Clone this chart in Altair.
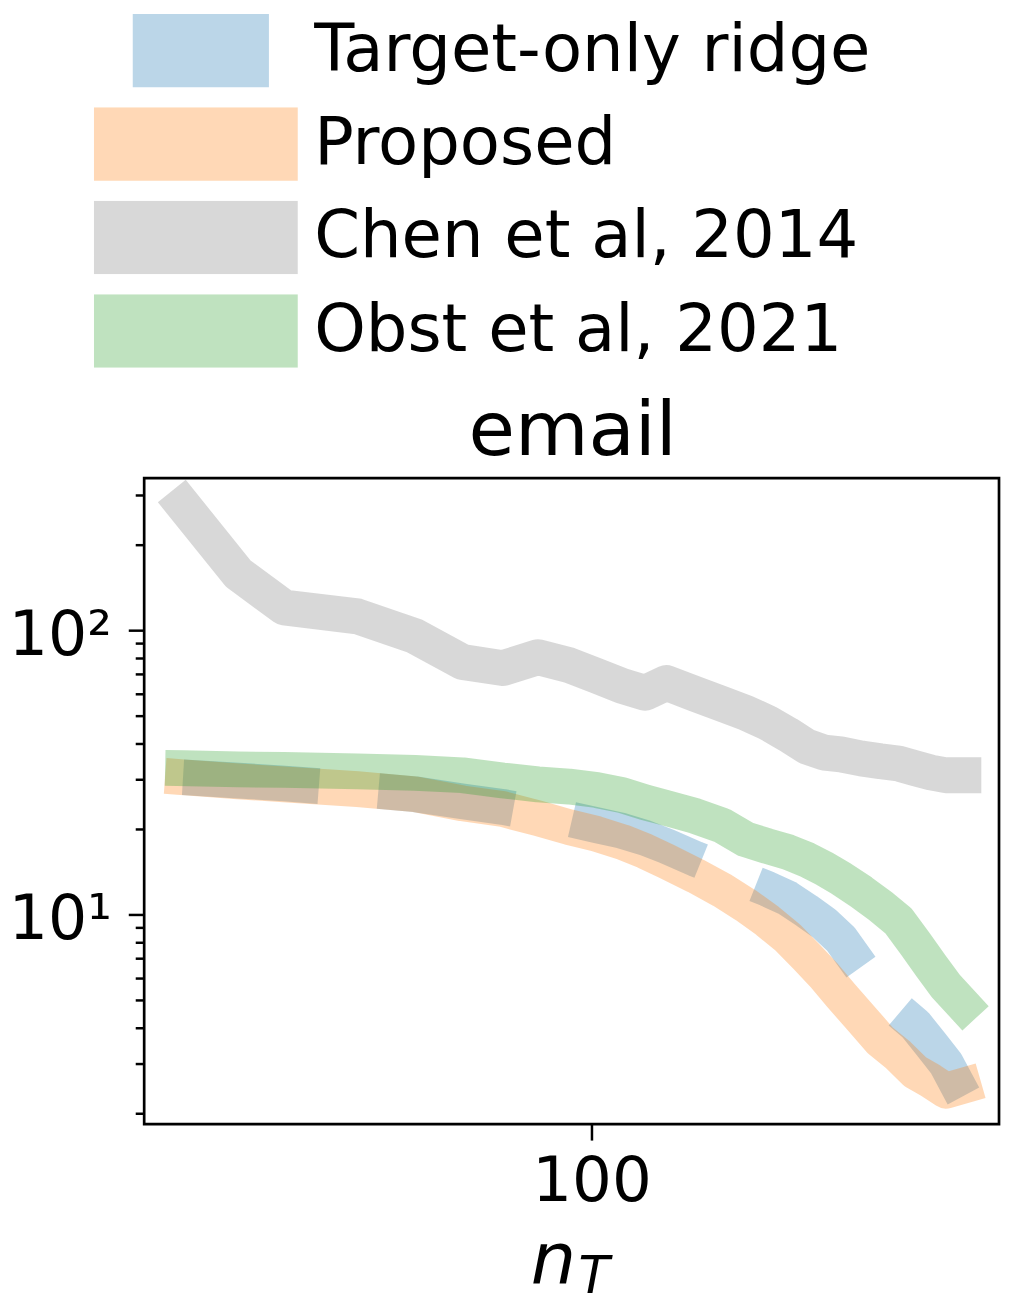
import altair as alt
import pandas as pd

names = ["Target-only ridge", "Proposed", "Chen et al, 2014", "Obst et al, 2021"]
colors = ["#1f77b4", "#ff7f0e", "#7f7f7f", "#2ca02c"]

n_T = [22, 27, 32, 42, 52, 62, 72, 82, 92, 102, 112, 122, 132, 147, 162, 177,
       192, 207, 222, 237, 252, 272, 292, 312, 332, 352, 372, 397]

target_only = [30.4, 29.6, 28.9, 27.6, 26.5, 25.0, 23.9, 22.7, 21.7, 20.6, 19.7, 18.6,
               17.4, 15.7, 14.4, 13.2, 12.3, 11.4, 10.3, 9.3, 8.2, 6.5, 5.4, 4.6,
               4.1, 3.5, 3.0, 2.3]
proposed = [30.4, 29.4, 28.7, 27.6, 26.5, 24.6, 23.5, 21.8, 20.3, 19.2, 18.0, 16.7,
            15.4, 13.7, 12.2, 10.8, 9.5, 8.3, 7.1, 6.1, 5.2, 4.3, 3.6, 3.2,
            2.8, 2.6, 2.4, 2.5]
chen = [275.8, 158.2, 120.3, 111.9, 95.3, 77.3, 73.6, 80.4, 75.4, 69.1, 63.7, 60.2,
        65.3, 59.7, 55.1, 51.3, 47.3, 43.0, 39.0, 37.1, 36.6, 35.4, 34.6, 34.0,
        32.7, 31.6, 30.9, 30.9]
obst = [32.7, 32.4, 32.3, 31.9, 31.5, 30.9, 29.6, 28.7, 28.2, 27.4, 26.3, 24.8,
        23.7, 22.2, 20.6, 18.4, 17.4, 16.6, 15.6, 14.5, 13.4, 12.0, 10.7, 9.5,
        7.9, 6.6, 5.6, 4.8]

y_ticks = [2, 3, 4, 5, 6, 7, 8, 9, 10, 20, 30, 40, 50, 60, 70, 80, 90, 100, 200, 300]
x_ticks = [100]

rows = []
for name, ys in zip(names, [target_only, proposed, chen, obst]):
    for xv, yv in zip(n_T, ys):
        rows.append({"series": name, "n_T": xv, "err": yv})
df = pd.DataFrame(rows)

FONT = "DejaVu Sans"

# legend handle: four stacked horizontal strokes forming a 205x74 band
legend = alt.Legend(
    title=None, orient="none", legendX=-60, legendY=-467, padding=0,
    labelFont=FONT, labelFontSize=66, labelColor="black", labelOffset=7,
    symbolOffset=0, labelLimit=0,
    symbolType="M-1,-0.27H1M-1,-0.09H1M-1,0.09H1M-1,0.27H1",
    symbolSize=42025, symbolStrokeWidth=18.6,
    symbolOpacity=0.3, symbolDashOffset=158, clipHeight=74, rowPadding=20,
)

x_enc = alt.X(
    "n_T:Q",
    scale=alt.Scale(type="log", domain=[19.05, 453], nice=False),
    axis=alt.Axis(values=x_ticks, format="d", title=None, domain=False, grid=False,
                  tickSize=16, tickWidth=2.5, tickColor="black", labelFont=FONT,
                  labelFontSize=63, labelColor="black", labelPadding=11,
                  labelFlush=False, labelOverlap=False),
)
y_enc = alt.Y(
    "err:Q",
    scale=alt.Scale(type="log", domain=[1.83, 343], nice=False),
    axis=alt.Axis(values=y_ticks, title=None, domain=False, grid=False,
                  labelExpr="datum.value == 100 ? '10²' : (datum.value == 10 ? '10¹' : '')",
                  tickSize={"condition": {"test": "datum.value == 10 || datum.value == 100", "value": 16}, "value": 9},
                  tickWidth=2.5, tickColor="black", labelFont=FONT, labelFontSize=62,
                  labelColor="black", labelPadding=17, labelOverlap=False,
                  labelFlush=False, labelOffset=5),
)
color_enc = alt.Color("series:N", scale=alt.Scale(domain=names, range=colors), legend=legend)
dash_enc = alt.StrokeDash("series:N",
                          scale=alt.Scale(domain=names,
                                          range=[[137, 60], [10000, 0], [10000, 0], [10000, 0]]),
                          legend=legend)

base = alt.Chart(df).encode(x=x_enc, y=y_enc, color=color_enc, strokeDash=dash_enc)

blue = base.transform_filter(alt.datum.series == names[0]).mark_line(
    strokeWidth=36, opacity=0.3, strokeCap="butt", strokeJoin="round", clip=True)
rest = base.transform_filter(alt.datum.series != names[0]).mark_line(
    strokeWidth=36, opacity=0.3, strokeCap="square", strokeJoin="round", clip=True)

title_txt = alt.Chart(pd.DataFrame({"t": ["email"]})).mark_text(
    font=FONT, fontSize=76, align="center", baseline="alphabetic", color="black"
).encode(text="t:N", x=alt.value(431), y=alt.value(-23))

xlab_n = alt.Chart(pd.DataFrame({"t": ["n"]})).mark_text(
    font=FONT, fontSize=72, fontStyle="italic", align="left", baseline="alphabetic", color="black"
).encode(text="t:N", x=alt.value(389), y=alt.value(810))

xlab_T = alt.Chart(pd.DataFrame({"t": ["T"]})).mark_text(
    font=FONT, fontSize=51, fontStyle="italic", align="left", baseline="alphabetic", color="black"
).encode(text="t:N", x=alt.value(437), y=alt.value(820))

chart = alt.layer(blue, rest, title_txt, xlab_n, xlab_T).properties(
    width=860, height=650,
    autosize=alt.AutoSizeParams(type="none"),
    padding={"left": 137, "top": 469, "right": 2, "bottom": 182},
    background="white",
).configure_view(stroke="black", strokeWidth=2.7)

chart.save("out.html", embed_options={"renderer": "svg", "actions": False})
